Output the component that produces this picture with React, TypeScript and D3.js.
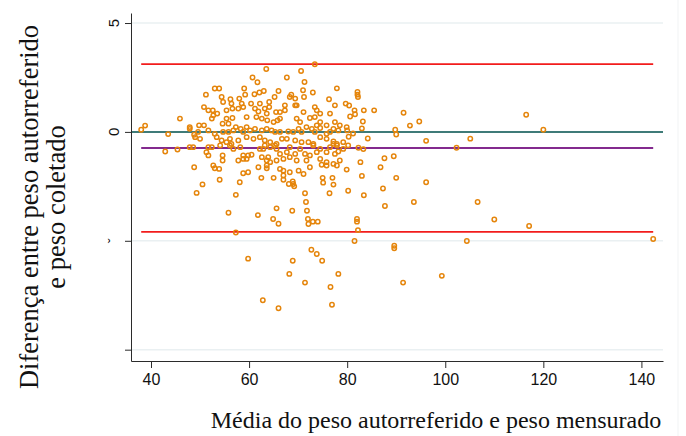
import React, { useRef, useEffect } from 'react';
import * as d3 from 'd3';

// Bland-Altman: mean of self-reported and measured weight vs difference
const xTicks = [40, 60, 80, 100, 120, 140];
const yTicks = [5, 0, -5, -10];
const yTickLabels = ['5', '0', 'ˇ', ''];
const gridValues = [5, -5, -10];

const meanDiff = -0.74;
const upperLimit = 3.11;
const lowerLimit = -4.59;

const xTitle = 'Média do peso autorreferido e peso mensurado';
const yTitle = ['Diferença entre peso autorreferido', 'e peso coletado'];

// [media, diferenca]
const points: [number, number][] = [
  [73.4, 3.11], [63.5, 2.89], [60.7, 2.5], [61.7, 2.28], [70.6, 2.8], [67.7, 2.5], [71.3, 2.29],
  [53.0, 1.99], [53.9, 1.99], [59.0, 1.99], [51.2, 1.71], [59.2, 1.71], [61.1, 1.73], [62.1, 1.81],
  [63.0, 1.88], [66.0, 1.88], [68.6, 1.71], [71.0, 1.91], [73.0, 1.81], [77.9, 2.0], [82.1, 1.83],
  [82.1, 1.71], [82.2, 1.6],
  [54.4, 1.6], [54.7, 1.37], [56.2, 1.5], [56.4, 1.3], [58.0, 1.53], [58.5, 1.3], [60.4, 1.3],
  [62.2, 1.3], [64.1, 1.37], [64.1, 1.14], [65.2, 1.6], [68.3, 1.6], [69.4, 1.53], [69.7, 1.22],
  [71.2, 1.6], [76.3, 1.5], [77.5, 1.22], [79.7, 1.3],
  [50.8, 1.14], [51.7, 0.99], [52.6, 0.99], [53.5, 0.84], [55.4, 0.99], [56.6, 1.07], [57.8, 1.07],
  [58.8, 1.14], [61.2, 1.07], [61.9, 0.94], [63.2, 1.07], [63.6, 0.84], [65.5, 0.91], [66.3, 0.91],
  [67.3, 1.22], [67.3, 0.99], [69.4, 1.22], [71.1, 0.91], [73.4, 1.14], [73.8, 0.99], [74.5, 0.84],
  [76.5, 0.84], [52.4, 0.61], [52.7, 0.76],
  [55.4, 0.61], [56.6, 0.64], [54.6, 0.38], [55.8, 0.38], [59.5, 0.68], [61.5, 0.68], [62.6, 0.61],
  [63.7, 0.53], [65.0, 0.45], [65.8, 0.53], [66.3, 0.61], [69.7, 0.61], [70.4, 0.45], [72.4, 0.64],
  [73.4, 0.68], [74.5, 0.45], [73.8, 0.3], [75.8, 0.3], [77.5, 0.45], [78.5, 0.3], [49.8, 0.3],
  [50.8, 0.3], [47.9, 0.22], [45.9, 0.61],
  [47.9, 0.14], [48.8, -0.13], [49.6, 0.0], [51.7, 0.07], [53.0, -0.09], [54.7, 0.0], [55.8, 0.0],
  [56.8, 0.07], [57.3, 0.22], [58.3, 0.14], [58.8, 0.0], [59.5, 0.22], [60.2, 0.07], [61.2, 0.14],
  [62.6, 0.07], [63.6, 0.14], [64.6, 0.07], [65.3, 0.0], [66.3, 0.0], [68.0, 0.02], [69.0, 0.0],
  [70.1, 0.14], [70.7, 0.0], [71.7, 0.22], [72.8, 0.14], [73.4, 0.0], [74.5, 0.18], [75.8, -0.09],
  [76.5, 0.0], [77.2, 0.14], [78.2, 0.07], [79.9, 0.22],
  [49.0, -0.24], [50.0, -0.32], [53.4, -0.24], [54.4, -0.39], [55.4, -0.47], [56.1, -0.32],
  [56.4, -0.55], [57.8, -0.39], [59.5, -0.24], [60.9, -0.32], [62.2, -0.24], [63.2, -0.39],
  [64.3, -0.47], [65.6, -0.55], [66.7, -0.32], [67.7, -0.32], [69.4, -0.39], [70.7, -0.47],
  [72.1, -0.47], [73.1, -0.55], [74.5, -0.24], [75.8, -0.32], [77.2, -0.55], [77.9, -0.55],
  [79.2, -0.47],
  [47.9, -0.7], [48.6, -0.7], [51.7, -0.7], [52.4, -0.7], [54.1, -0.62], [56.1, -0.62], [56.8, -0.78],
  [58.2, -0.7], [62.2, -0.78], [62.9, -0.78], [63.2, -0.62], [64.3, -0.7], [65.3, -0.62],
  [65.6, -0.78], [68.3, -0.7], [70.4, -0.78], [73.1, -0.62], [74.5, -0.78], [76.5, -0.7],
  [77.9, -0.62], [79.2, -0.78], [51.3, -0.93], [51.7, -1.08], [54.6, -1.08], [58.8, -1.08],
  [59.8, -1.08], [60.5, -1.05], [62.6, -1.16], [63.9, -1.16], [66.3, -1.01], [67.7, -0.93],
  [69.4, -1.01], [71.4, -1.01], [72.4, -1.08], [73.8, -0.93], [75.8, -0.93], [77.5, -1.01],
  [54.6, -1.31], [57.8, -1.31], [58.8, -1.24], [59.5, -1.24], [63.6, -1.31], [64.3, -1.39],
  [65.6, -1.31], [67.0, -1.24], [68.3, -1.16], [69.7, -1.31], [71.7, -1.31], [74.5, -1.24],
  [75.8, -1.39], [77.2, -1.47], [78.5, -1.31], [48.8, -1.62], [52.7, -1.54], [53.0, -1.67],
  [53.9, -1.7], [59.8, -1.85], [61.9, -1.62], [63.6, -1.54], [63.6, -1.67], [66.3, -1.7],
  [67.0, -1.78], [68.3, -1.85], [70.1, -1.78], [72.4, -1.62], [74.8, -1.51], [75.8, -1.54],
  [77.9, -1.54], [79.9, -1.73], [71.1, -1.93], [67.0, -2.0], [58.8, -1.9],
  [38.8, 0.29], [38.0, 0.1], [43.5, -0.1], [42.9, -0.9], [45.4, -0.81],
  [80.4, 1.21], [81.5, 0.99], [81.6, 0.81], [80.6, 0.71], [83.4, 0.99], [85.5, 0.99], [91.5, 0.88],
  [94.7, 0.48], [92.8, 0.29], [83.2, 0.48], [89.8, 0.1], [90.0, -0.12], [96.1, -0.41], [84.2, -0.3],
  [83.3, -0.79], [82.3, -0.73], [80.2, -0.62], [80.3, -0.22], [80.0, 0.07], [81.2, -0.07],
  [83.0, 0.16], [77.2, -0.44], [78.2, -0.9], [87.6, -1.21], [89.5, -1.12], [86.8, -1.62],
  [82.7, -1.39], [83.0, -2.02], [90.0, -2.11], [96.1, -2.31], [87.3, -2.6], [80.2, -2.7],
  [83.4, -2.91], [87.7, -3.4], [93.6, -3.22], [102.3, -0.73], [105.1, -0.31], [116.5, 0.79],
  [120.0, 0.1],
  [75.0, -2.11], [75.1, -2.33], [77.0, -2.11], [77.2, -2.42], [71.4, -2.82], [71.6, -3.22],
  [71.8, -3.62], [76.4, -2.82], [106.6, -3.22], [110.0, -4.02], [72.0, -4.0], [72.1, -4.23],
  [73.0, -4.12], [74.0, -4.12], [82.0, -4.0], [82.0, -4.12], [82.2, -4.51], [81.5, -5.01],
  [89.6, -5.23], [89.6, -5.34], [104.4, -5.01], [72.7, -5.41], [73.8, -5.61], [74.9, -5.92],
  [78.2, -6.52], [71.4, -6.92], [76.6, -7.12], [76.9, -7.94], [91.4, -6.92], [99.3, -6.61],
  [117.1, -4.32], [142.4, -4.92],
  [50.5, -2.41], [49.3, -2.8], [54.0, -2.2], [57.3, -2.89], [58.1, -2.31], [55.8, -3.71],
  [61.8, -3.82], [65.6, -3.51], [64.9, -4.0], [66.0, -4.22], [68.8, -3.62], [57.3, -4.62],
  [59.8, -5.82], [68.9, -5.92], [68.2, -6.52], [62.8, -7.73], [66.0, -8.1],
  [62.5, -2.11], [65.0, -2.11], [67.0, -2.2], [68.1, -2.39], [69.0, -2.39], [69.2, -2.5],
  [68.9, -2.28],
];

const App: React.FC = () => {
  const width = 686;
  const height = 436;
  const svgRef = useRef<SVGSVGElement>(null);

  useEffect(() => {
    if (!svgRef.current) return;
    const svg = d3.select(svgRef.current);
    svg.selectAll('*').remove();

    const left = 131, right = 663, top = 13, bottom = 361;
    const x = d3.scaleLinear().domain([35.92, 144.4]).range([left, right]);
    const y = d3.scaleLinear().domain([-10.52, 5.46]).range([bottom, top]);
    const sans = '"Liberation Sans", Arial, sans-serif';
    const serif = '"Liberation Serif", "Times New Roman", serif';

    // faint outer frame line on the right
    svg.append('line')
      .attr('x1', 678).attr('x2', 678).attr('y1', 0).attr('y2', height)
      .attr('stroke', '#f1f3f4').attr('stroke-width', 1);

    // gridlines
    svg.selectAll('line.grid')
      .data(gridValues)
      .enter()
      .append('line')
      .attr('class', 'grid')
      .attr('x1', left).attr('x2', right)
      .attr('y1', d => y(d)).attr('y2', d => y(d))
      .attr('stroke', '#eaf0f2').attr('stroke-width', 1.5);

    // zero line
    svg.append('line')
      .attr('x1', left).attr('x2', right)
      .attr('y1', y(0)).attr('y2', y(0))
      .attr('stroke', '#3f7b78').attr('stroke-width', 2);

    const [xMinData, xMaxData] = d3.extent(points, d => d[0]) as [number, number];

    // limits of agreement + mean difference
    [upperLimit, lowerLimit].forEach(v => {
      svg.append('line')
        .attr('x1', x(xMinData)).attr('x2', x(xMaxData))
        .attr('y1', y(v)).attr('y2', y(v))
        .attr('stroke', '#f21c1c').attr('stroke-width', 1.8);
    });
    svg.append('line')
      .attr('x1', x(xMinData)).attr('x2', x(xMaxData))
      .attr('y1', y(meanDiff)).attr('y2', y(meanDiff))
      .attr('stroke', '#832a8e').attr('stroke-width', 2);

    // points
    svg.append('g')
      .selectAll('circle')
      .data(points)
      .enter()
      .append('circle')
      .attr('cx', d => x(d[0]))
      .attr('cy', d => y(d[1]))
      .attr('r', 2.2)
      .attr('fill', 'none')
      .attr('stroke', '#e5850b')
      .attr('stroke-width', 1.5);

    // axes
    const xAxis = svg.append('g')
      .attr('transform', `translate(0,${bottom})`)
      .call(d3.axisBottom(x).tickValues(xTicks).tickSize(7).tickSizeOuter(0).tickPadding(6));
    xAxis.select('.domain').attr('stroke', '#2b2b2b');
    xAxis.selectAll('.tick line').attr('stroke', '#2b2b2b');
    xAxis.selectAll('.tick text')
      .attr('font-family', sans).attr('font-size', 16).attr('fill', '#111');

    const yAxis = svg.append('g')
      .attr('transform', `translate(${left},0)`)
      .call(d3.axisLeft(y).tickValues(yTicks).tickSize(6).tickSizeOuter(0).tickFormat(() => ''));
    yAxis.select('.domain').attr('stroke', '#2b2b2b');
    yAxis.selectAll('.tick line').attr('stroke', '#2b2b2b');

    svg.selectAll('text.ylab')
      .data(yTicks)
      .enter()
      .append('text')
      .attr('class', 'ylab')
      .attr('transform', d => `translate(119,${y(d)}) rotate(-90)`)
      .attr('text-anchor', 'middle')
      .attr('font-family', sans).attr('font-size', 15).attr('fill', '#111')
      .text((d, i) => yTickLabels[i]);

    // titles
    svg.append('text')
      .attr('x', 436).attr('y', 428)
      .attr('text-anchor', 'middle')
      .attr('font-family', serif).attr('font-size', 24).attr('fill', '#111')
      .text(xTitle);

    yTitle.forEach((t, i) => {
      svg.append('text')
        .attr('transform', `translate(${38 + i * 27},207) rotate(-90)`)
        .attr('text-anchor', 'middle')
        .attr('font-family', serif).attr('font-size', 26.5).attr('fill', '#111')
        .text(t);
    });
  }, []);

  return (
    <svg ref={svgRef} width={width} height={height}
      style={{ position: 'absolute', left: 0, top: 0, background: '#fff' }} />
  );
};

export default App;
